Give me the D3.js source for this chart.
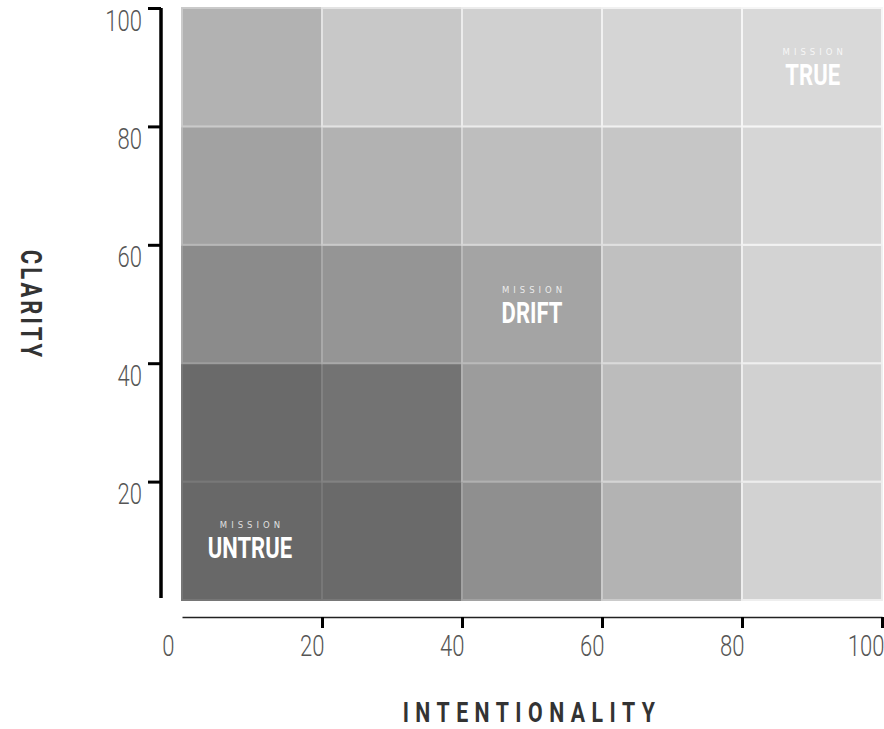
<!DOCTYPE html>
<html>
<head>
<meta charset="utf-8">
<script src="https://cdn.jsdelivr.net/npm/d3@7"></script>
<style>
  body { margin: 0; background: #fff; }
  text { font-family: Roboto, "DejaVu Sans", sans-serif; }
</style>
</head>
<body>
<div id="chart"></div>
<script>
// Data
const xBins = [0, 20, 40, 60, 80];
const yBins = [0, 20, 40, 60, 80];
// grey level of each cell, rows from bottom (0-20) to top (80-100)
const cellShades = [
  ["#686868", "#6a6a6a", "#8f8f8f", "#b3b3b3", "#d2d2d2"],
  ["#6a6a6a", "#737373", "#9c9c9c", "#bcbcbc", "#d1d1d1"],
  ["#8b8b8b", "#959595", "#a4a4a4", "#c0c0c0", "#d3d3d3"],
  ["#a2a2a2", "#b2b2b2", "#bebebe", "#c6c6c6", "#d6d6d6"],
  ["#b2b2b2", "#c8c8c8", "#d0d0d0", "#d5d5d5", "#d9d9d9"]
];
const xTicks = [0, 20, 40, 60, 80, 100];
const yTicks = [20, 40, 60, 80, 100];
const zoneNames = ["UNTRUE", "DRIFT", "TRUE"];
const zoneX = [9.7, 50, 90.1];
const zoneY = [7.1, 46.8, 87];

const width = 884, height = 729;
const plot = {left: 182, right: 882, top: 8, bottom: 600};
const narrow = 0.76;   // horizontal squeeze to get a condensed look

const svg = d3.select("#chart").append("svg")
    .attr("width", width)
    .attr("height", height);

const x = d3.scaleLinear().domain([0, 100]).range([plot.left, plot.right]);
const y = d3.scaleLinear().domain([0, 100]).range([plot.bottom, plot.top]);

// cells
const cells = [];
yBins.forEach(function(yv, r) {
    xBins.forEach(function(xv, c) {
        cells.push({x: xv, y: yv, color: cellShades[r][c]});
    });
});

svg.append("g").selectAll("rect")
    .data(cells)
    .enter()
    .append("rect")
    .attr("x", d => x(d.x))
    .attr("y", d => y(d.y + 20))
    .attr("width", d => x(d.x + 20) - x(d.x))
    .attr("height", d => y(d.y) - y(d.y + 20))
    .attr("fill", d => d.color)
    .attr("stroke", d => d3.color(d.color).brighter(0.35))
    .attr("stroke-width", 2);

// zone labels
const zones = svg.append("g").selectAll("g")
    .data(zoneNames)
    .enter()
    .append("g")
    .attr("transform", (d, i) => "translate(" + x(zoneX[i]) + "," + y(zoneY[i]) + ")");

zones.append("text")
    .attr("text-anchor", "middle")
    .attr("y", -30)
    .attr("dx", 2)
    .attr("fill", "rgba(255,255,255,0.8)")
    .style("font-family", "'DejaVu Sans', sans-serif")
    .style("font-size", "8.5px")
    .style("letter-spacing", "4px")
    .text("MISSION");

zones.append("text")
    .attr("text-anchor", "middle")
    .attr("transform", "scale(" + narrow + ",1)")
    .attr("fill", "#fff")
    .style("font-size", "29px")
    .style("font-weight", "bold")
    .text(d => d);

// y axis
const yAxis = svg.append("g")
    .attr("transform", "translate(161,0)")
    .call(d3.axisLeft(y).tickValues(yTicks).tickSize(13).tickSizeOuter(0).tickPadding(6));

yAxis.select(".domain")
    .attr("d", "M0," + y(100) + "V" + (plot.bottom - 2))
    .attr("stroke", "#000")
    .attr("stroke-width", 3.5);
yAxis.selectAll(".tick line").attr("stroke", "#000").attr("stroke-width", 3);
yAxis.selectAll(".tick text")
    .attr("x", -19 / narrow)
    .attr("dy", 22)
    .attr("transform", "scale(" + narrow + ",1)")
    .attr("fill", "#555")
    .style("font-size", "29px")
    .style("font-weight", "300");

// x axis
const xAxis = svg.append("g")
    .attr("transform", "translate(0,617)")
    .call(d3.axisBottom(x).tickValues(xTicks).tickSize(11).tickSizeOuter(0).tickPadding(8));

xAxis.select(".domain").attr("stroke", "#222").attr("stroke-width", 1.5);
xAxis.selectAll(".tick line")
    .attr("stroke", "#000")
    .attr("stroke-width", 3)
    .attr("opacity", d => d === 0 ? 0 : 1);
xAxis.selectAll(".tick text")
    .attr("text-anchor", "end")
    .attr("x", d => (d === 0 ? -8 : 2) / narrow)
    .attr("dy", 20)
    .attr("transform", "scale(" + narrow + ",1)")
    .attr("fill", "#555")
    .style("font-size", "29px")
    .style("font-weight", "300");

// axis titles
svg.append("text")
    .attr("transform", "translate(" + (plot.left + plot.right) / 2 + ",722) scale(" + narrow + ",1)")
    .attr("text-anchor", "middle")
    .attr("fill", "#333")
    .style("font-size", "28px")
    .style("font-weight", "bold")
    .style("letter-spacing", "8.5px")
    .text("INTENTIONALITY");

svg.append("text")
    .attr("transform", "translate(21,305) rotate(90) scale(" + narrow + ",1)")
    .attr("text-anchor", "middle")
    .attr("fill", "#333")
    .style("font-size", "29px")
    .style("font-weight", "bold")
    .style("letter-spacing", "4px")
    .text("CLARITY");
</script>
</body>
</html>
